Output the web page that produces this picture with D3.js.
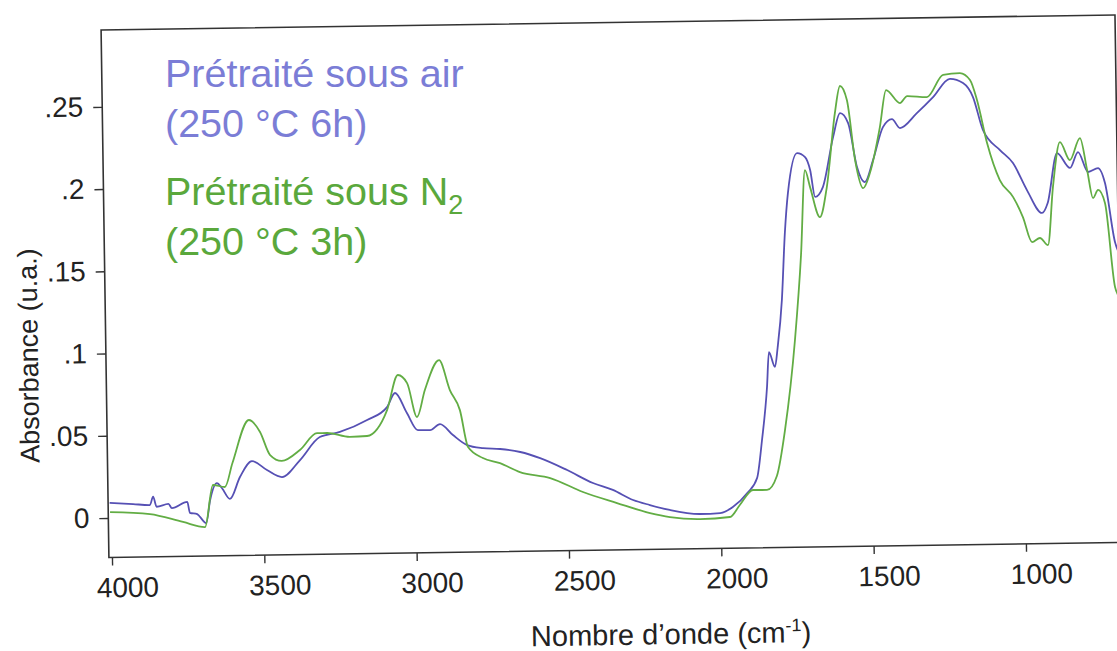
<!DOCTYPE html>
<html>
<head>
<meta charset="utf-8">
<script src="https://cdn.jsdelivr.net/npm/d3@7"></script>
<style>
body { margin: 0; background: #fff; }
svg { display: block; font-family: "Liberation Sans", Arial, sans-serif; }
</style>
</head>
<body>
<script>
var width = 1117, height = 651;

// axis ticks
var xTicks = [4000, 3500, 3000, 2500, 2000, 1500, 1000];
var yTicks = [0, 0.05, 0.1, 0.15, 0.2, 0.25];
var yTickLabels = ["0", ".05", ".1", ".15", ".2", ".25"];

// "Prétraité sous air" spectrum
var airWn = [4005, 3928, 3873, 3862, 3851, 3812, 3801, 3750, 3742, 3718, 3709, 3689, 3675, 3652, 3636,
  3610, 3576, 3536, 3487, 3438, 3378, 3312, 3246, 3156, 3090, 3063, 3025, 2990, 2950, 2917, 2875,
  2829, 2777, 2721, 2655, 2590, 2502, 2418, 2353, 2287, 2232, 2167, 2068, 2002, 1960, 1912, 1879,
  1861, 1842, 1834, 1815, 1805, 1789, 1776, 1764, 1732, 1706, 1690, 1675, 1649, 1613, 1589, 1563,
  1536, 1511, 1483, 1449, 1419, 1393, 1337, 1283, 1227, 1184, 1152, 1121, 1066, 1024, 979, 931,
  912, 879, 837, 810, 778, 745, 723, 693, 675];
var airAbs = [0.0092, 0.0082, 0.0075, 0.0125, 0.0064, 0.0080, 0.0054, 0.0091, 0.0024, 0.0016, -0.0002, -0.0040, 0.0100, 0.0202, 0.0172,
  0.0105, 0.0237, 0.0333, 0.0277, 0.0233, 0.0335, 0.0473, 0.0502, 0.0572, 0.0649, 0.0734, 0.0611, 0.0506, 0.0505, 0.0541, 0.0473,
  0.0411, 0.0391, 0.0384, 0.0364, 0.0325, 0.0250, 0.0169, 0.0125, 0.0062, 0.0030, -0.0002, -0.0029, -0.0025, 0.0010, 0.0094, 0.0184,
  0.0415, 0.0737, 0.0949, 0.0858, 0.0979, 0.1264, 0.1671, 0.1914, 0.2156, 0.2131, 0.2052, 0.1888, 0.1947, 0.2250, 0.2395, 0.2334,
  0.2066, 0.1974, 0.2107, 0.2306, 0.2354, 0.2299, 0.2388, 0.2484, 0.2593, 0.2567, 0.2481, 0.2280, 0.2156, 0.2076, 0.1909, 0.1770,
  0.1830, 0.2133, 0.2041, 0.2137, 0.2015, 0.2038, 0.1947, 0.1587, 0.1500];

// "Prétraité sous N2" spectrum
var n2Wn = [4004, 3873, 3765, 3693, 3665, 3626, 3600, 3544, 3508, 3476, 3438, 3378, 3321, 3288, 3213,
  3157, 3090, 3053, 3023, 2992, 2965, 2917, 2883, 2851, 2826, 2778, 2722, 2657, 2558, 2451, 2340,
  2232, 2167, 2068, 1970, 1937, 1893, 1847, 1814, 1785, 1748, 1724, 1707, 1691, 1660, 1636, 1606,
  1588, 1566, 1542, 1517, 1494, 1459, 1437, 1392, 1368, 1303, 1249, 1194, 1161, 1139, 1108, 1068,
  1025, 994, 965, 939, 913, 894, 869, 837, 803, 781, 763, 746, 724, 695, 680];
var n2Abs = [0.0036, 0.0020, -0.0031, -0.0064, 0.0191, 0.0178, 0.0323, 0.0583, 0.0509, 0.0368, 0.0331, 0.0396, 0.0497, 0.0497, 0.0471,
  0.0475, 0.0631, 0.0843, 0.0793, 0.0586, 0.0749, 0.0930, 0.0747, 0.0624, 0.0399, 0.0331, 0.0298, 0.0242, 0.0203, 0.0115, 0.0045,
  -0.0019, -0.0045, -0.0060, -0.0050, 0.0022, 0.0112, 0.0111, 0.0195, 0.0474, 0.1020, 0.1536, 0.2052, 0.1948, 0.1765, 0.1947, 0.2396,
  0.2560, 0.2474, 0.2109, 0.1937, 0.2028, 0.2307, 0.2531, 0.2451, 0.2493, 0.2485, 0.2618, 0.2628, 0.2585, 0.2463, 0.2200, 0.1974,
  0.1869, 0.1747, 0.1594, 0.1618, 0.1574, 0.1926, 0.2199, 0.2089, 0.2222, 0.2027, 0.1856, 0.1905, 0.1825, 0.1313, 0.1250];

var plot = {left: 105, right: 1119, top: 22.5, bottom: 550};

var svg = d3.select("body").append("svg")
    .attr("width", width)
    .attr("height", height);

// the scanned page is slightly tilted
var g = svg.append("g")
    .attr("transform", "rotate(-0.85, 610, 290)");

var x = d3.scaleLinear().domain([4010, 682]).range([plot.left, plot.right]);
var y = d3.scaleLinear().domain([-0.024, 0.2967]).range([plot.bottom, plot.top]);

g.append("clipPath").attr("id", "clip")
  .append("rect")
    .attr("x", plot.left).attr("y", plot.top)
    .attr("width", plot.right - plot.left).attr("height", plot.bottom - plot.top);

// bottom axis
var xAxis = g.append("g")
    .attr("transform", "translate(0," + plot.bottom + ")")
    .call(d3.axisBottom(x).tickValues(xTicks).tickFormat(d3.format("d")).tickSize(8).tickPadding(12));

// left axis
var yAxis = g.append("g")
    .attr("transform", "translate(" + plot.left + ",0)")
    .call(d3.axisLeft(y).tickValues(yTicks).tickFormat(function(d, i) { return yTickLabels[i]; }).tickSize(9).tickPadding(10));

[xAxis, yAxis].forEach(function(a) {
  a.select(".domain").remove();
  a.selectAll(".tick line").attr("stroke", "#333").attr("stroke-width", 1.4);
  a.selectAll(".tick text")
    .attr("fill", "#222")
    .style("font-size", "28px")
    .style("font-family", "'Liberation Sans', Arial, sans-serif");
});
xAxis.selectAll(".tick text").attr("dx", 15);

// frame
g.append("rect")
    .attr("x", plot.left).attr("y", plot.top)
    .attr("width", plot.right - plot.left).attr("height", plot.bottom - plot.top)
    .attr("fill", "none")
    .attr("stroke", "#333")
    .attr("stroke-width", 1.6);

var line = d3.line()
    .x(function(d) { return x(d[0]); })
    .y(function(d) { return y(d[1]); })
    .curve(d3.curveMonotoneX);

var series = [
  {wn: airWn, abs: airAbs, color: "#5650b4"},
  {wn: n2Wn, abs: n2Abs, color: "#62ad44"}
];

series.forEach(function(s) {
  g.append("path")
      .datum(d3.zip(s.wn, s.abs))
      .attr("clip-path", "url(#clip)")
      .attr("fill", "none")
      .attr("stroke", s.color)
      .attr("stroke-width", 1.8)
      .attr("stroke-linejoin", "round")
      .attr("d", line);
});

// axis titles
g.append("text")
    .attr("transform", "translate(37,347)rotate(-90)")
    .attr("text-anchor", "middle")
    .attr("fill", "#222")
    .style("font-size", "27px")
    .text("Absorbance (u.a.)");

var xt = g.append("text")
    .attr("x", 666)
    .attr("y", 645)
    .attr("text-anchor", "middle")
    .attr("fill", "#222")
    .style("font-size", "29px");
xt.append("tspan").text("Nombre d\u2019onde (cm");
xt.append("tspan").attr("dy", -11).style("font-size", "18px").text("-1");
xt.append("tspan").attr("dy", 11).text(")");

// legend
var legend = [
  {lines: ["Prétraité sous air", "(250 °C 6h)"], color: "#7b7dd6", y: 87},
  {lines: ["Prétraité sous N", "(250 °C 3h)"], color: "#5aa83c", y: 205, sub: "2"}
];

legend.forEach(function(l) {
  var t1 = svg.append("text")
      .attr("x", 165).attr("y", l.y)
      .attr("fill", l.color)
      .style("font-size", "39.5px")
      .text(l.lines[0]);
  if (l.sub) {
    t1.append("tspan").attr("dy", 9).style("font-size", "27px").text(l.sub);
  }
  svg.append("text")
      .attr("x", 165).attr("y", l.y + 50)
      .attr("fill", l.color)
      .style("font-size", "39.5px")
      .text(l.lines[1]);
});
</script>
</body>
</html>
